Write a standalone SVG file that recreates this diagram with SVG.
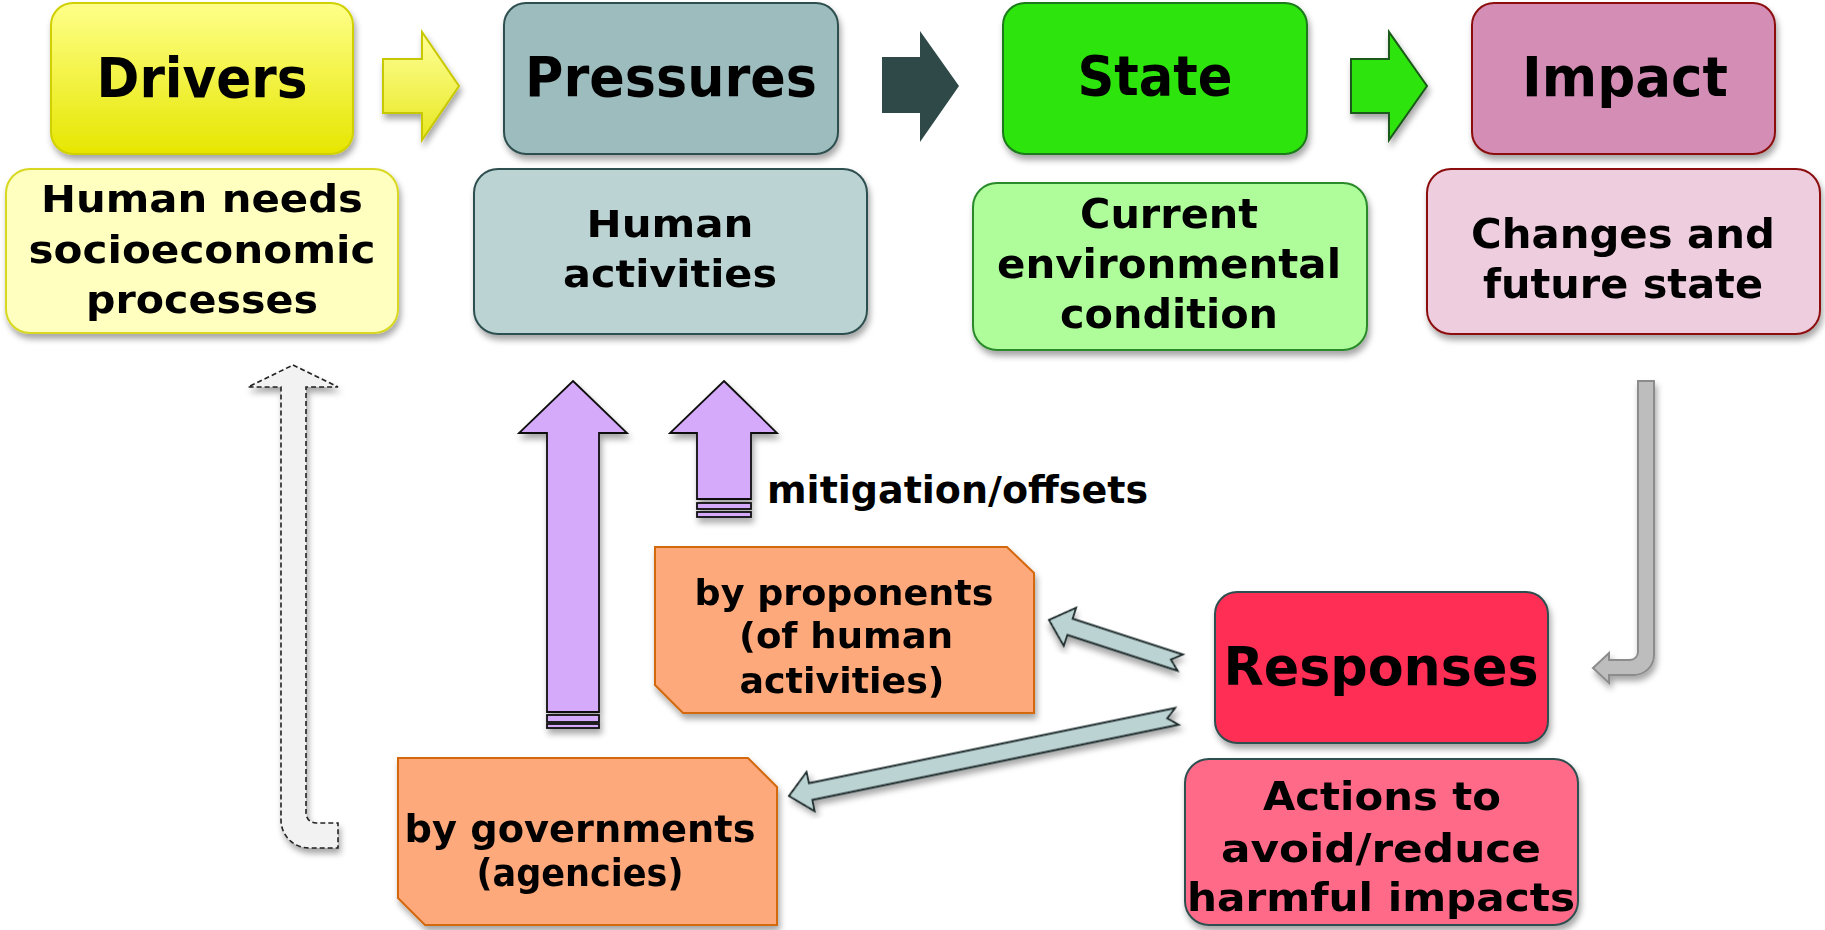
<svg xmlns="http://www.w3.org/2000/svg" width="1825" height="930" viewBox="0 0 1825 930">
<defs>
<linearGradient id="gY" x1="0" y1="0" x2="0" y2="1"><stop offset="0" stop-color="#ffff8a"/><stop offset="1" stop-color="#e6e600"/></linearGradient>
<linearGradient id="gYA" x1="0" y1="0" x2="0" y2="1"><stop offset="0" stop-color="#ffff9a"/><stop offset="1" stop-color="#e8e820"/></linearGradient>
<filter id="sh" x="-10%" y="-10%" width="125%" height="130%"><feDropShadow dx="2" dy="5" stdDeviation="3" flood-color="#000" flood-opacity="0.35"/></filter>
<style>
text{font-family:"DejaVu Sans","Liberation Sans",sans-serif;font-weight:bold;fill:#000;text-anchor:middle}
.t{font-size:55px}
.s37{font-size:37px}
.s34{font-size:37px}
.s41{font-size:41px}
.s35{font-size:35px}
.s39{font-size:39px}
.purp{fill:#d5aafb;stroke:#111;stroke-width:1.8}
.orng{fill:#fda97c;stroke:#d4680e;stroke-width:2}
.conn{fill:#bcd3d4;stroke:#1a2828;stroke-width:1.8;stroke-linejoin:miter}
</style>
</defs>
<rect width="1825" height="930" fill="#fff"/>

<g id="drivers" filter="url(#sh)">
<rect x="51" y="3" width="302" height="151" rx="22" fill="url(#gY)" stroke="#d0d000" stroke-width="2"/>
<text class="t" x="202" y="97" textLength="211" lengthAdjust="spacingAndGlyphs">Drivers</text>
</g>
<g id="human-needs" filter="url(#sh)">
<rect x="6" y="169" width="392" height="164" rx="24" fill="#ffffc0" stroke="#d8d820" stroke-width="2"/>
<text class="s37" x="202" y="212" textLength="322" lengthAdjust="spacingAndGlyphs">Human needs</text>
<text class="s37" x="202" y="263" textLength="347" lengthAdjust="spacingAndGlyphs">socioeconomic</text>
<text class="s37" x="202" y="313" textLength="232" lengthAdjust="spacingAndGlyphs">processes</text>
</g>

<g id="pressures" filter="url(#sh)">
<rect x="504" y="3" width="334" height="151" rx="22" fill="#9dbcbe" stroke="#2f4f4f" stroke-width="2"/>
<text class="t" x="671" y="96" textLength="292" lengthAdjust="spacingAndGlyphs">Pressures</text>
</g>
<g id="human-activities" filter="url(#sh)">
<rect x="474" y="169" width="393" height="165" rx="24" fill="#bcd3d4" stroke="#2f4f4f" stroke-width="2"/>
<text class="s34" x="670" y="237" textLength="167" lengthAdjust="spacingAndGlyphs">Human</text>
<text class="s34" x="670" y="287" textLength="214" lengthAdjust="spacingAndGlyphs">activities</text>
</g>

<g id="state" filter="url(#sh)">
<rect x="1003" y="3" width="304" height="151" rx="22" fill="#2ee40a" stroke="#1a7a1a" stroke-width="2"/>
<text class="t" x="1155" y="95" textLength="155" lengthAdjust="spacingAndGlyphs">State</text>
</g>
<g id="current-condition" filter="url(#sh)">
<rect x="973" y="183" width="394" height="167" rx="24" fill="#aefc9a" stroke="#2a8a2a" stroke-width="2"/>
<text class="s41" x="1169" y="228" textLength="178" lengthAdjust="spacingAndGlyphs">Current</text>
<text class="s41" x="1169" y="278" textLength="344" lengthAdjust="spacingAndGlyphs">environmental</text>
<text class="s41" x="1169" y="328" textLength="218" lengthAdjust="spacingAndGlyphs">condition</text>
</g>

<g id="impact" filter="url(#sh)">
<rect x="1472" y="3" width="303" height="151" rx="22" fill="#d48db5" stroke="#8b1010" stroke-width="2"/>
<text class="t" x="1625" y="96" textLength="206" lengthAdjust="spacingAndGlyphs">Impact</text>
</g>
<g id="changes" filter="url(#sh)">
<rect x="1427" y="169" width="393" height="165" rx="24" fill="#eecddf" stroke="#8b1010" stroke-width="2"/>
<text class="s41" x="1623" y="248" textLength="304" lengthAdjust="spacingAndGlyphs">Changes and</text>
<text class="s41" x="1623" y="298" textLength="280" lengthAdjust="spacingAndGlyphs">future state</text>
</g>

<g id="responses" filter="url(#sh)">
<rect x="1215" y="592" width="333" height="151" rx="22" fill="#ff2d55" stroke="#2f4f4f" stroke-width="2"/>
<text style="font-size:54px" x="1381" y="685" textLength="315" lengthAdjust="spacingAndGlyphs">Responses</text>
</g>
<g id="actions" filter="url(#sh)">
<rect x="1185" y="759" width="393" height="166" rx="24" fill="#ff6b88" stroke="#2f4f4f" stroke-width="2"/>
<text class="s39" x="1382" y="810" textLength="238" lengthAdjust="spacingAndGlyphs">Actions to</text>
<text class="s39" x="1381" y="862" textLength="320" lengthAdjust="spacingAndGlyphs">avoid/reduce</text>
<text class="s39" x="1381" y="911" textLength="388" lengthAdjust="spacingAndGlyphs">harmful impacts</text>
</g>

<g id="by-proponents" filter="url(#sh)">
<path class="orng" d="M655,547 L1007,547 L1034,573 L1034,713 L683,713 L655,685 Z"/>
<text class="s35" x="844" y="605" textLength="299" lengthAdjust="spacingAndGlyphs">by proponents</text>
<text class="s35" x="846" y="648" textLength="214" lengthAdjust="spacingAndGlyphs">(of human</text>
<text class="s35" x="842" y="693" textLength="205" lengthAdjust="spacingAndGlyphs">activities)</text>
</g>
<g id="by-governments" filter="url(#sh)">
<path class="orng" d="M398,758 L748,758 L777,787 L777,925 L425,925 L398,898 Z"/>
<text class="s37" x="580" y="842" textLength="351" lengthAdjust="spacingAndGlyphs">by governments</text>
<text class="s37" x="580" y="886" textLength="207" lengthAdjust="spacingAndGlyphs">(agencies)</text>
</g>

<g id="connectors">
<polygon points="383,59 422,59 422,32 459,86 422,140 422,113 383,113" fill="url(#gYA)" stroke="#c8c800" stroke-width="2" filter="url(#sh)"/>
<polygon points="882,57 920,57 920,31 959,86 920,142 920,113 882,113" fill="#2f4848"/>
<polygon points="1351,59 1389,59 1389,32 1427,86 1389,140 1389,113 1351,113" fill="#2ee40a" stroke="#1a5a1a" stroke-width="2" filter="url(#sh)"/>

<path d="M1638,381 L1654,381 L1654,655 A20,20 0 0 1 1634,675 L1609,675 L1609,683 L1593,668 L1609,653 L1609,660 L1630,660 A8,8 0 0 0 1638,652 Z" fill="#bdbdbd" stroke="#8c8c8c" stroke-width="2" filter="url(#sh)"/>

<path d="M293,365 L338,387 L306,387 L306,813 A10,10 0 0 0 316,823 L338,823 L338,848 L309,848 A28,28 0 0 1 281,820 L281,387 L248,387 Z" fill="#f2f2f2" stroke="#222" stroke-width="1.6" stroke-dasharray="5,3" filter="url(#sh)"/>

<g filter="url(#sh)">
<path class="purp" d="M573,381 L627,433 L599,433 L599,712 L547,712 L547,433 L519,433 Z"/>
<rect class="purp" x="547" y="715" width="52" height="7"/>
<rect class="purp" x="547" y="724" width="52" height="4"/>
</g>
<g filter="url(#sh)">
<path class="purp" d="M724,381 L777,433 L751,433 L751,499 L697,499 L697,433 L670,433 Z"/>
<rect class="purp" x="697" y="503" width="54" height="6"/>
<rect class="purp" x="697" y="512" width="54" height="5"/>
</g>
<text class="s37" style="text-anchor:start" x="767" y="503" textLength="381" lengthAdjust="spacingAndGlyphs">mitigation/offsets</text>

<polygon class="conn" transform="translate(1049,620) rotate(18)" points="0,0 22,-20 22,-8.5 138,-8.5 128,0 138,8.5 22,8.5 22,20" filter="url(#sh)"/>
<polygon class="conn" transform="translate(789,796) rotate(-11.6)" points="0,0 22,-20 22,-8.5 396,-8.5 386,0 396,8.5 22,8.5 22,20" filter="url(#sh)"/>
</g>
</svg>
